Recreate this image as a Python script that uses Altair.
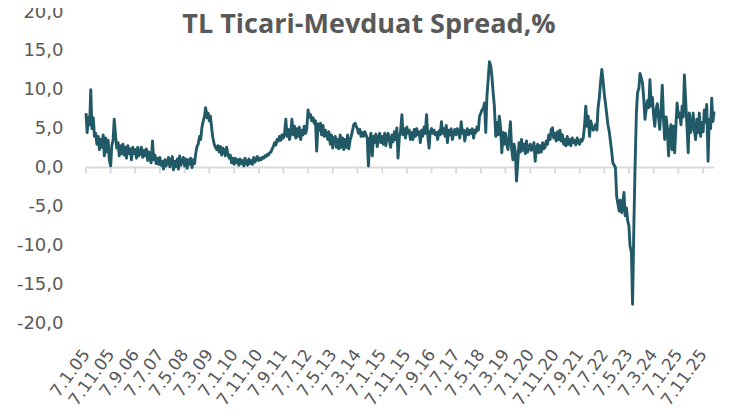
import altair as alt
import pandas as pd

# Semi-monthly readings (7th and 21st of each month), in % points
v2005 = [7.0, 4.5, 6.5, 5.5, 10.0, 5.0, 6.4, 4.0, 4.4, 3.0, 4.0, 2.3, 3.6, 2.6, 4.2, 1.5, 3.8, 2.0, 3.5, 1.0, 0.2, 2.8, 3.5, 6.2]
v2006 = [4.0, 2.5, 3.2, 1.5, 2.8, 1.8, 3.0, 1.6, 2.6, 1.2, 2.8, 1.8, 2.4, 1.0, 2.6, 1.8, 2.3, 1.2, 2.6, 1.5, 1.9, 2.6, 1.3, 2.2]
v2007 = [1.5, 2.4, 0.9, 2.0, 1.2, 0.6, 3.4, 1.0, 1.6, 0.5, 1.2, 0.4, 1.3, 0.3, 0.8, -0.2, 1.0, 0.2, 0.7, 1.3, 0.1, 0.9, 1.4, -0.3]
v2008 = [0.8, 0.1, 1.1, -0.2, 1.5, 0.3, 0.8, 1.3, 0.2, 1.1, -0.1, 1.0, 0.4, 1.2, 0.0, 1.0, 0.5, 1.8, 2.7, 3.0, 4.0, 3.6, 5.2, 5.9]
v2009 = [6.6, 7.7, 6.4, 7.0, 6.0, 6.6, 4.9, 3.8, 3.0, 2.6, 2.3, 2.8, 2.0, 2.7, 1.6, 2.5, 2.2, 1.5, 2.6, 1.8, 1.2, 1.6, 0.6, 1.2]
v2010 = [0.4, 1.2, 0.6, 1.0, 0.3, 1.1, 0.5, 0.9, 0.2, 1.2, 0.6, 0.3, 1.1, 0.5, 0.9, 0.4, 1.3, 0.7, 1.0, 1.4, 0.9, 1.2, 1.0, 1.3]
v2011 = [1.2, 1.5, 1.4, 1.7, 1.6, 1.9, 2.0, 2.4, 2.7, 3.2, 2.9, 3.6, 3.4, 4.0, 3.5, 4.2, 3.8, 4.4, 6.2, 4.0, 4.9, 3.6, 4.5, 6.2]
v2012 = [4.2, 5.3, 3.8, 5.0, 4.0, 5.2, 3.6, 4.8, 4.2, 5.3, 4.4, 5.0, 7.4, 6.5, 6.8, 6.0, 6.4, 5.7, 6.0, 2.1, 5.6, 4.8, 5.7, 4.2]
v2013 = [5.4, 4.0, 4.8, 4.2, 3.6, 4.6, 3.0, 4.2, 2.5, 3.8, 4.0, 2.6, 3.6, 2.4, 4.2, 2.6, 3.8, 2.3, 3.6, 2.6, 4.2, 2.4, 3.5, 4.0]
v2014 = [4.8, 5.5, 5.7, 5.3, 5.0, 4.4, 4.9, 4.0, 4.5, 4.0, 4.6, 4.2, 3.8, 0.2, 3.4, 4.4, 1.5, 4.0, 3.2, 4.3, 2.7, 3.8, 4.4, 3.2]
v2015 = [4.0, 3.0, 4.4, 2.8, 3.8, 4.4, 3.4, 2.6, 4.2, 3.3, 4.6, 3.6, 5.1, 1.2, 4.0, 4.5, 6.8, 4.2, 5.0, 3.8, 5.2, 4.4, 4.8, 3.6]
v2016 = [4.5, 3.6, 4.9, 4.0, 5.0, 4.2, 4.6, 3.2, 4.8, 4.0, 5.2, 4.4, 6.8, 4.2, 2.5, 4.6, 5.0, 4.4, 4.8, 4.2, 4.5, 3.6, 4.7, 4.2]
v2017 = [5.9, 4.4, 5.0, 4.0, 5.4, 3.2, 4.8, 4.2, 5.0, 3.6, 4.4, 4.9, 4.2, 5.0, 4.6, 3.8, 5.9, 4.4, 4.8, 3.4, 4.6, 5.0, 4.2, 4.8]
v2018 = [4.4, 5.0, 3.8, 4.8, 4.5, 5.2, 4.8, 6.6, 7.0, 7.4, 7.6, 8.3, 4.5, 9.1, 11.5, 13.6, 13.0, 11.7, 9.5, 7.9, 4.0, 5.8, 4.2, 6.6]
v2019 = [5.0, 1.9, 4.5, 3.0, 4.4, 3.0, 2.3, 4.0, 5.9, 2.5, 1.0, 3.0, 2.0, -1.75, 0.8, 3.2, 2.0, 3.6, 2.2, 3.0, 1.8, 3.4, 2.0, 2.6]
v2020 = [3.0, 2.2, 2.6, 3.2, 0.8, 2.4, 3.0, 1.9, 2.8, 2.0, 3.2, 2.4, 2.6, 3.4, 3.0, 4.2, 3.6, 4.9, 5.1, 3.8, 4.4, 3.4, 4.6, 3.6]
v2021 = [4.8, 3.4, 4.2, 3.0, 3.6, 2.8, 4.0, 3.0, 3.6, 2.8, 3.8, 3.2, 3.5, 2.9, 3.8, 3.2, 3.0, 3.6, 3.4, 3.8, 5.5, 7.9, 5.3, 6.6]
v2022 = [4.0, 6.0, 5.3, 4.8, 5.0, 5.5, 4.8, 7.6, 9.0, 10.8, 12.6, 11.3, 9.5, 8.3, 6.8, 5.5, 4.6, 3.4, 2.0, 0.6, 0.3, 0.0, -3.7, -4.6]
v2023 = [-5.6, -4.2, -5.8, -4.5, -3.2, -6.2, -5.2, -6.8, -7.5, -10.1, -10.9, -17.6, -7.5, -0.3, 7.0, 9.6, 10.2, 12.1, 11.5, 10.9, 8.7, 6.2, 7.5, 8.6]
v2024 = [7.7, 11.3, 7.9, 9.0, 6.6, 5.3, 7.5, 8.2, 6.4, 4.9, 7.5, 10.6, 6.2, 3.6, 6.5, 5.3, 1.5, 4.5, 5.5, 2.3, 5.3, 1.9, 5.5, 8.3]
v2025 = [6.5, 7.0, 5.5, 7.9, 6.5, 11.9, 8.3, 5.5, 1.9, 7.0, 4.5, 5.3, 7.0, 4.8, 3.6, 6.2, 4.5, 7.0, 4.0, 5.8, 4.6, 7.4, 5.8, 8.1]
v2026 = [0.8, 6.2, 5.0, 8.9, 5.9, 7.2]

series = {
    2005: v2005, 2006: v2006, 2007: v2007, 2008: v2008, 2009: v2009,
    2010: v2010, 2011: v2011, 2012: v2012, 2013: v2013, 2014: v2014,
    2015: v2015, 2016: v2016, 2017: v2017, 2018: v2018, 2019: v2019,
    2020: v2020, 2021: v2021, 2022: v2022, 2023: v2023, 2024: v2024,
    2025: v2025, 2026: v2026,
}

tick_labels = ["7.1.05", "7.11.05", "7.9.06", "7.7.07", "7.5.08", "7.3.09",
               "7.1.10", "7.11.10", "7.9.11", "7.7.12", "7.5.13", "7.3.14",
               "7.1.15", "7.11.15", "7.9.16", "7.7.17", "7.5.18", "7.3.19",
               "7.1.20", "7.11.20", "7.9.21", "7.7.22", "7.5.23", "7.3.24",
               "7.1.25", "7.11.25"]
y_ticks = [-20, -15, -10, -5, 0, 5, 10, 15, 20]
title_text = "TL Ticari-Mevduat Spread,%"

rows = []
for yr, vals in series.items():
    for i, v in enumerate(vals):
        m = i // 2 + 1
        d = 7 if i % 2 == 0 else 21
        rows.append({"date": f"{yr}-{m:02d}-{d:02d}T00:00:00", "value": v})
df = pd.DataFrame(rows)

tick_dt, tick_iso = [], []
for lab in tick_labels:
    d, m, y = lab.split(".")
    tick_dt.append(alt.DateTime(year=2000 + int(y), month=int(m), date=int(d)))
    tick_iso.append(f"{2000 + int(y)}-{int(m):02d}-{int(d):02d}T00:00:00")
ticks_df = pd.DataFrame({"date": tick_iso})
span_df = pd.DataFrame({"date": [df["date"].iloc[0]], "end": [df["date"].iloc[-1]]})

x_scale = alt.Scale(domain=[alt.DateTime(year=2005, month=1, date=7),
                            alt.DateTime(year=2026, month=3, date=21)])
y_scale = alt.Scale(domain=[-20, 20], nice=False, zero=False)

GREY = "#595959"
AXIS_GREY = "#d9d9d9"
W, H = 628, 311

x_axis = alt.Axis(
    orient="bottom",
    values=tick_dt,
    labelExpr="timeFormat(datum.value, '%-d.%-m.%y')",
    labelAngle=-54, labelAlign="right", labelBaseline="middle",
    labelPadding=28, labelFont="DejaVu Sans", labelFontSize=17,
    labelColor=GREY, labelOverlap=False, labelFlush=False, labelBound=False,
    domain=False, ticks=False, grid=False, title=None,
)
y_axis = alt.Axis(
    values=y_ticks,
    labelExpr="(datum.value < 0 ? '-' : '') + replace(format(abs(datum.value), '.1f'), '.', ',')",
    labelFont="DejaVu Sans", labelFontSize=18, labelColor=GREY, labelPadding=23,
    domain=False, ticks=False, grid=False, title=None,
)

zero_line = alt.Chart(span_df).mark_rule(color=AXIS_GREY, strokeWidth=2.2).encode(
    x=alt.X("date:T", scale=x_scale, axis=x_axis),
    x2="end:T",
    y=alt.datum(0, scale=y_scale, axis=y_axis),
)
zero_ticks = alt.Chart(ticks_df).mark_rule(color=AXIS_GREY, strokeWidth=1.8, y2Offset=6).encode(
    x=alt.X("date:T", scale=x_scale, axis=x_axis),
    y=alt.datum(0, scale=y_scale, axis=y_axis),
    y2=alt.datum(0),
)
main_line = alt.Chart(df).mark_line(color="#215967", strokeWidth=2.9, strokeJoin="round").encode(
    x=alt.X("date:T", scale=x_scale, axis=x_axis),
    y=alt.Y("value:Q", scale=y_scale, axis=y_axis),
)

chart = alt.layer(zero_line, zero_ticks, main_line).properties(
    width=W, height=H,
    autosize=alt.AutoSizeParams(type="none"),
    padding={"left": 78, "top": 4, "right": 12, "bottom": 90},
    background="white",
    title=alt.TitleParams(
        title_text, font="Open Sans", fontSize=27, fontWeight="bold",
        color=GREY, anchor="middle", frame="group", dx=-31, offset=-57,
        baseline="alphabetic",
    ),
).configure_view(stroke=None)

chart.save("out.html", embed_options={"renderer": "svg", "actions": False})
